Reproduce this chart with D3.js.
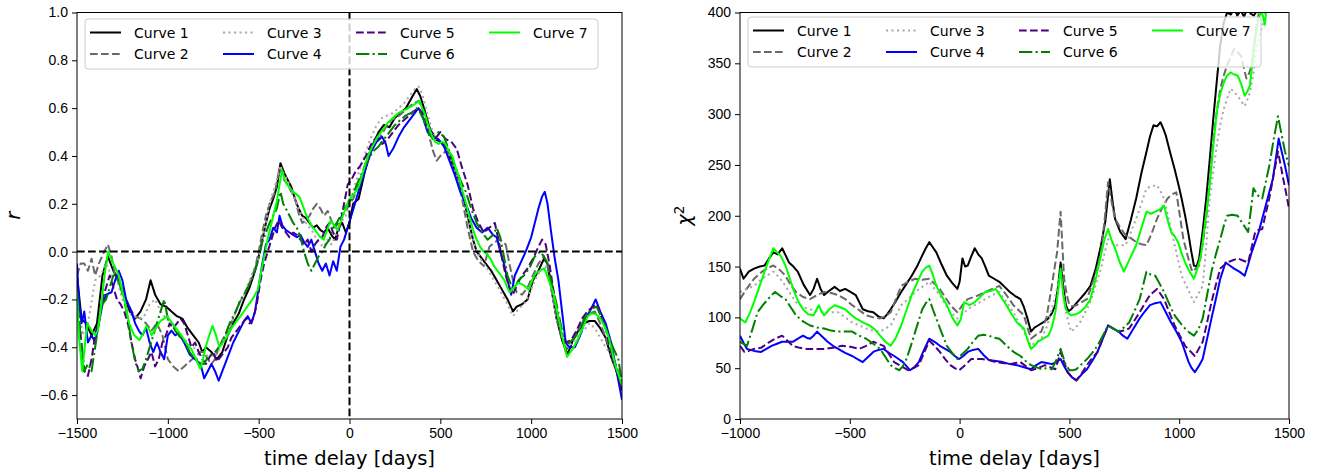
<!DOCTYPE html>
<html>
<head>
<meta charset="utf-8">
<script src="https://cdn.jsdelivr.net/npm/d3@7"></script>
<style>
  body { margin: 0; background: #fff; }
  svg { font-family: "DejaVu Sans", sans-serif; }
  .tick text { font-size: 14px; fill: #000; }
  .tick line { stroke: #000; stroke-width: 1; }
  .axis-label { font-size: 19.5px; fill: #000; }
  .legend-text { font-size: 14px; fill: #000; }
</style>
</head>
<body>
<div id="chart"></div>
<script>
  // ---------------- //
 // Data (read off)  //
// ---------------- //
var curveNames = ["Curve 1", "Curve 2", "Curve 3", "Curve 4", "Curve 5", "Curve 6", "Curve 7"];

var rTicksX = [-1500, -1000, -500, 0, 500, 1000, 1500];
var rTicksY = [-0.6, -0.4, -0.2, 0.0, 0.2, 0.4, 0.6, 0.8, 1.0];
var chiTicksX = [-1000, -500, 0, 500, 1000, 1500];
var chiTicksY = [0, 50, 100, 150, 200, 250, 300, 350, 400];

// left panel: correlation r vs time delay
var rCurve1 = [[-1500,-0.1],[-1475,-0.28],[-1450,-0.3],[-1420,-0.35],[-1390,-0.3],[-1360,-0.1],[-1330,-0.02],[-1300,-0.08],[-1270,-0.12],[-1240,-0.18],[-1210,-0.25],[-1180,-0.28],[-1150,-0.25],[-1120,-0.2],[-1095,-0.12],[-1070,-0.18],[-1040,-0.22],[-1010,-0.23],[-980,-0.25],[-950,-0.27],[-920,-0.28],[-890,-0.32],[-860,-0.35],[-830,-0.38],[-810,-0.42],[-790,-0.4],[-760,-0.42],[-730,-0.45],[-700,-0.42],[-670,-0.35],[-640,-0.3],[-610,-0.26],[-580,-0.2],[-550,-0.15],[-520,-0.08],[-500,-0.02],[-480,0.05],[-460,0.12],[-440,0.18],[-420,0.22],[-400,0.27],[-380,0.37],[-360,0.33],[-340,0.3],[-320,0.27],[-300,0.22],[-280,0.18],[-260,0.15],[-240,0.14],[-220,0.12],[-200,0.1],[-180,0.11],[-160,0.09],[-140,0.08],[-120,0.1],[-100,0.07],[-80,0.05],[-60,0.1],[-40,0.12],[-20,0.08],[0,0.12],[20,0.2],[50,0.22],[80,0.32],[100,0.38],[130,0.45],[160,0.5],[190,0.53],[220,0.52],[250,0.56],[280,0.58],[310,0.6],[340,0.64],[370,0.68],[390,0.65],[410,0.6],[440,0.52],[470,0.47],[500,0.46],[530,0.44],[560,0.38],[590,0.32],[620,0.25],[650,0.15],[680,0.05],[700,0.0],[720,-0.02],[750,-0.05],[780,-0.08],[810,-0.12],[840,-0.16],[870,-0.2],[900,-0.25],[920,-0.23],[950,-0.22],[980,-0.2],[1010,-0.12],[1040,-0.08],[1070,-0.03],[1090,-0.05],[1110,-0.15],[1140,-0.28],[1170,-0.37],[1200,-0.43],[1230,-0.37],[1260,-0.33],[1290,-0.3],[1320,-0.29],[1350,-0.29],[1380,-0.32],[1410,-0.36],[1440,-0.44],[1470,-0.5],[1500,-0.58]];
var rCurve2 = [[-1500,-0.1],[-1480,-0.05],[-1460,-0.05],[-1440,-0.08],[-1420,-0.03],[-1400,-0.1],[-1380,-0.05],[-1350,0.0],[-1330,0.03],[-1310,-0.02],[-1290,-0.1],[-1260,-0.15],[-1230,-0.2],[-1200,-0.25],[-1180,-0.27],[-1150,-0.28],[-1120,-0.3],[-1090,-0.33],[-1060,-0.3],[-1030,-0.35],[-1000,-0.45],[-970,-0.48],[-940,-0.5],[-910,-0.48],[-880,-0.46],[-850,-0.44],[-820,-0.42],[-800,-0.42],[-780,-0.45],[-760,-0.47],[-740,-0.45],[-720,-0.4],[-700,-0.37],[-670,-0.33],[-640,-0.28],[-610,-0.22],[-580,-0.18],[-550,-0.13],[-520,-0.07],[-500,0.0],[-480,0.08],[-460,0.15],[-440,0.2],[-410,0.25],[-385,0.35],[-360,0.3],[-340,0.28],[-320,0.25],[-300,0.22],[-280,0.16],[-260,0.12],[-240,0.13],[-220,0.15],[-200,0.18],[-180,0.2],[-160,0.18],[-140,0.15],[-120,0.17],[-100,0.13],[-80,0.1],[-60,0.12],[-40,0.15],[-20,0.17],[0,0.2],[20,0.22],[50,0.28],[80,0.35],[110,0.42],[140,0.45],[170,0.48],[200,0.52],[230,0.55],[260,0.56],[290,0.58],[320,0.6],[350,0.62],[380,0.63],[400,0.6],[420,0.55],[440,0.48],[460,0.42],[480,0.38],[500,0.4],[530,0.42],[560,0.4],[590,0.33],[620,0.22],[650,0.1],[680,0.0],[710,-0.04],[740,-0.06],[770,0.02],[800,0.04],[830,0.05],[860,0.03],[880,-0.05],[900,-0.12],[920,-0.17],[950,-0.18],[980,-0.15],[1010,-0.1],[1040,-0.05],[1070,-0.02],[1090,-0.05],[1110,-0.15],[1140,-0.28],[1170,-0.36],[1200,-0.38],[1230,-0.37],[1260,-0.33],[1290,-0.28],[1320,-0.26],[1350,-0.25],[1380,-0.3],[1410,-0.36],[1440,-0.42],[1470,-0.48],[1500,-0.55]];
var rCurve3 = [[-1500,-0.15],[-1470,-0.35],[-1440,-0.3],[-1400,-0.12],[-1370,-0.1],[-1340,-0.05],[-1310,-0.1],[-1280,-0.12],[-1250,-0.2],[-1220,-0.25],[-1190,-0.27],[-1160,-0.28],[-1130,-0.27],[-1100,-0.22],[-1070,-0.2],[-1040,-0.25],[-1010,-0.28],[-980,-0.3],[-950,-0.33],[-920,-0.36],[-890,-0.38],[-860,-0.4],[-830,-0.42],[-800,-0.44],[-770,-0.43],[-740,-0.44],[-710,-0.4],[-680,-0.35],[-650,-0.3],[-620,-0.24],[-590,-0.2],[-560,-0.14],[-530,-0.08],[-500,-0.03],[-480,0.05],[-460,0.12],[-440,0.2],[-420,0.25],[-400,0.3],[-380,0.36],[-360,0.32],[-340,0.3],[-320,0.25],[-300,0.22],[-280,0.18],[-260,0.15],[-240,0.12],[-220,0.1],[-200,0.08],[-180,0.05],[-160,0.03],[-140,0.02],[-120,0.05],[-100,0.03],[-80,0.06],[-60,0.1],[-40,0.13],[-20,0.15],[0,0.2],[30,0.28],[60,0.35],[90,0.42],[120,0.48],[150,0.53],[180,0.56],[210,0.57],[240,0.58],[270,0.6],[300,0.62],[330,0.65],[360,0.68],[380,0.69],[400,0.66],[420,0.6],[450,0.52],[480,0.46],[510,0.45],[540,0.42],[570,0.36],[600,0.3],[630,0.22],[660,0.12],[690,0.02],[720,-0.03],[750,-0.06],[780,-0.1],[810,-0.14],[840,-0.18],[870,-0.22],[900,-0.27],[930,-0.24],[960,-0.22],[990,-0.18],[1020,-0.12],[1050,-0.08],[1080,-0.06],[1110,-0.15],[1140,-0.28],[1170,-0.36],[1200,-0.4],[1230,-0.38],[1260,-0.35],[1290,-0.33],[1320,-0.3],[1350,-0.32],[1380,-0.36],[1410,-0.4],[1440,-0.43],[1470,-0.5],[1500,-0.57]];
var rCurve4 = [[-1500,-0.05],[-1490,-0.2],[-1475,-0.3],[-1460,-0.25],[-1440,-0.38],[-1420,-0.35],[-1400,-0.38],[-1380,-0.3],[-1360,-0.22],[-1340,-0.18],[-1310,-0.17],[-1290,-0.12],[-1270,-0.08],[-1250,-0.12],[-1230,-0.2],[-1200,-0.25],[-1180,-0.3],[-1160,-0.33],[-1140,-0.35],[-1120,-0.32],[-1100,-0.38],[-1080,-0.42],[-1060,-0.38],[-1040,-0.42],[-1020,-0.45],[-1000,-0.35],[-980,-0.33],[-960,-0.35],[-940,-0.34],[-910,-0.38],[-880,-0.43],[-850,-0.45],[-820,-0.47],[-800,-0.53],[-780,-0.5],[-760,-0.47],[-740,-0.5],[-720,-0.54],[-700,-0.5],[-680,-0.46],[-660,-0.42],[-640,-0.38],[-620,-0.35],[-600,-0.32],[-580,-0.29],[-560,-0.27],[-540,-0.3],[-520,-0.25],[-500,-0.15],[-480,-0.05],[-460,0.03],[-440,0.05],[-420,0.1],[-400,0.08],[-385,0.15],[-370,0.11],[-350,0.09],[-330,0.08],[-310,0.07],[-290,0.06],[-270,0.07],[-250,0.04],[-230,0.02],[-210,0.05],[-190,0.0],[-170,-0.05],[-150,-0.08],[-130,-0.05],[-110,-0.1],[-90,-0.04],[-70,-0.08],[-50,0.02],[-30,0.05],[-10,0.1],[10,0.15],[30,0.2],[60,0.28],[90,0.35],[120,0.42],[150,0.46],[180,0.48],[200,0.45],[215,0.4],[240,0.43],[270,0.48],[300,0.52],[330,0.55],[360,0.58],[380,0.6],[400,0.57],[430,0.5],[460,0.48],[490,0.47],[520,0.44],[550,0.38],[580,0.32],[610,0.25],[640,0.2],[670,0.14],[700,0.1],[730,0.08],[760,0.1],[790,0.07],[810,0.06],[830,0.0],[850,-0.05],[870,-0.12],[890,-0.18],[910,-0.1],[940,-0.05],[970,0.0],[1000,0.06],[1020,0.12],[1040,0.18],[1060,0.23],[1075,0.25],[1090,0.2],[1110,0.08],[1130,-0.03],[1150,-0.12],[1170,-0.25],[1190,-0.38],[1210,-0.4],[1240,-0.4],[1270,-0.35],[1300,-0.28],[1330,-0.24],[1355,-0.2],[1380,-0.25],[1410,-0.3],[1440,-0.38],[1470,-0.5],[1500,-0.62]];
var rCurve5 = [[-1500,-0.2],[-1480,-0.35],[-1460,-0.5],[-1440,-0.52],[-1420,-0.45],[-1400,-0.35],[-1380,-0.28],[-1360,-0.2],[-1340,-0.15],[-1320,-0.1],[-1300,-0.15],[-1280,-0.2],[-1260,-0.22],[-1240,-0.25],[-1220,-0.3],[-1200,-0.38],[-1180,-0.45],[-1160,-0.5],[-1150,-0.53],[-1130,-0.48],[-1110,-0.45],[-1090,-0.42],[-1070,-0.48],[-1050,-0.45],[-1030,-0.38],[-1010,-0.35],[-990,-0.3],[-970,-0.32],[-950,-0.3],[-930,-0.28],[-910,-0.3],[-890,-0.35],[-870,-0.4],[-850,-0.38],[-830,-0.42],[-810,-0.45],[-790,-0.47],[-770,-0.44],[-750,-0.42],[-730,-0.46],[-710,-0.44],[-690,-0.42],[-670,-0.4],[-650,-0.36],[-630,-0.34],[-610,-0.32],[-590,-0.3],[-570,-0.28],[-550,-0.3],[-530,-0.28],[-510,-0.22],[-490,-0.12],[-470,-0.05],[-450,0.0],[-430,0.05],[-410,0.1],[-390,0.13],[-370,0.1],[-350,0.08],[-330,0.06],[-310,0.08],[-290,0.07],[-270,0.05],[-250,0.03],[-230,0.05],[-210,0.0],[-190,0.03],[-170,0.05],[-150,0.06],[-130,0.1],[-110,0.12],[-90,0.08],[-70,0.05],[-50,0.12],[-30,0.2],[-10,0.28],[10,0.3],[30,0.33],[60,0.36],[90,0.4],[120,0.45],[150,0.48],[180,0.45],[210,0.47],[240,0.5],[270,0.53],[300,0.55],[330,0.57],[360,0.59],[380,0.6],[400,0.58],[420,0.53],[450,0.5],[480,0.48],[500,0.5],[530,0.47],[560,0.46],[590,0.43],[620,0.35],[650,0.28],[680,0.18],[710,0.12],[740,0.08],[770,0.1],[800,0.12],[820,0.05],[840,-0.03],[860,-0.1],[880,-0.15],[900,-0.18],[920,-0.14],[950,-0.1],[980,-0.07],[1010,-0.03],[1040,0.02],[1060,0.05],[1080,0.03],[1100,-0.05],[1120,-0.15],[1140,-0.25],[1160,-0.33],[1190,-0.38],[1220,-0.37],[1250,-0.33],[1280,-0.28],[1310,-0.25],[1340,-0.23],[1360,-0.22],[1380,-0.26],[1410,-0.32],[1440,-0.42],[1470,-0.5],[1500,-0.58]];
var rCurve6 = [[-1500,-0.2],[-1480,-0.35],[-1460,-0.5],[-1440,-0.47],[-1420,-0.5],[-1400,-0.4],[-1380,-0.3],[-1360,-0.22],[-1340,-0.2],[-1320,-0.15],[-1300,-0.1],[-1280,-0.1],[-1260,-0.15],[-1240,-0.2],[-1220,-0.28],[-1200,-0.38],[-1180,-0.46],[-1160,-0.5],[-1140,-0.49],[-1120,-0.45],[-1100,-0.4],[-1080,-0.35],[-1060,-0.3],[-1040,-0.25],[-1020,-0.2],[-1000,-0.28],[-980,-0.3],[-960,-0.33],[-940,-0.35],[-920,-0.37],[-900,-0.39],[-880,-0.42],[-860,-0.44],[-840,-0.45],[-820,-0.47],[-800,-0.47],[-780,-0.44],[-760,-0.43],[-740,-0.42],[-720,-0.4],[-700,-0.38],[-680,-0.34],[-660,-0.3],[-640,-0.27],[-620,-0.24],[-600,-0.2],[-580,-0.18],[-560,-0.15],[-540,-0.12],[-520,-0.08],[-500,-0.03],[-480,0.04],[-460,0.08],[-440,0.12],[-420,0.15],[-400,0.18],[-380,0.25],[-365,0.2],[-350,0.18],[-330,0.15],[-310,0.12],[-290,0.1],[-270,0.06],[-250,0.0],[-230,-0.05],[-210,-0.08],[-190,-0.05],[-170,-0.02],[-150,0.0],[-130,0.03],[-110,0.05],[-90,0.1],[-70,0.12],[-50,0.15],[-30,0.18],[-10,0.2],[10,0.22],[40,0.28],[70,0.33],[100,0.38],[130,0.42],[160,0.44],[190,0.47],[220,0.5],[250,0.53],[280,0.55],[310,0.57],[340,0.58],[370,0.6],[390,0.58],[410,0.55],[430,0.5],[460,0.47],[490,0.5],[520,0.48],[550,0.42],[580,0.36],[610,0.3],[640,0.25],[670,0.18],[700,0.12],[730,0.08],[760,0.05],[790,0.07],[810,0.1],[830,0.06],[850,-0.02],[870,-0.1],[890,-0.14],[910,-0.15],[930,-0.12],[960,-0.1],[990,-0.07],[1020,-0.02],[1050,0.0],[1070,-0.02],[1090,-0.05],[1110,-0.12],[1140,-0.22],[1170,-0.33],[1190,-0.42],[1210,-0.38],[1240,-0.36],[1270,-0.32],[1300,-0.27],[1330,-0.24],[1360,-0.23],[1390,-0.28],[1420,-0.34],[1450,-0.4],[1480,-0.45],[1500,-0.55]];
var rCurve7 = [[-1500,-0.17],[-1490,-0.35],[-1471,-0.5],[-1455,-0.38],[-1443,-0.3],[-1420,-0.33],[-1400,-0.35],[-1385,-0.33],[-1360,-0.18],[-1345,-0.08],[-1328,0.0],[-1300,-0.05],[-1270,-0.1],[-1240,-0.2],[-1213,-0.3],[-1185,-0.35],[-1156,-0.37],[-1135,-0.34],[-1117,-0.31],[-1100,-0.33],[-1089,-0.35],[-1065,-0.32],[-1041,-0.29],[-1020,-0.28],[-1003,-0.27],[-985,-0.29],[-965,-0.31],[-945,-0.33],[-926,-0.35],[-900,-0.38],[-869,-0.41],[-845,-0.45],[-821,-0.49],[-806,-0.45],[-792,-0.4],[-772,-0.35],[-754,-0.31],[-735,-0.35],[-716,-0.4],[-697,-0.38],[-677,-0.36],[-650,-0.32],[-620,-0.29],[-590,-0.26],[-563,-0.23],[-535,-0.2],[-505,-0.16],[-485,-0.08],[-467,-0.01],[-448,0.06],[-429,0.12],[-414,0.17],[-400,0.21],[-385,0.28],[-371,0.34],[-357,0.3],[-343,0.28],[-310,0.25],[-276,0.23],[-256,0.19],[-237,0.15],[-210,0.11],[-180,0.08],[-160,0.06],[-142,0.05],[-123,0.09],[-104,0.13],[-85,0.11],[-65,0.09],[-46,0.13],[-27,0.17],[-12,0.2],[0,0.22],[25,0.24],[50,0.27],[70,0.32],[88,0.37],[108,0.41],[126,0.44],[155,0.48],[183,0.51],[212,0.54],[241,0.56],[270,0.58],[298,0.59],[322,0.6],[346,0.61],[365,0.62],[385,0.63],[400,0.6],[413,0.58],[432,0.53],[451,0.49],[470,0.46],[490,0.45],[510,0.46],[528,0.45],[547,0.42],[566,0.4],[585,0.35],[604,0.31],[623,0.25],[642,0.2],[662,0.14],[681,0.09],[700,0.05],[719,0.02],[738,0.0],[757,-0.01],[776,-0.03],[795,-0.06],[824,-0.09],[853,-0.12],[868,-0.15],[882,-0.17],[905,-0.15],[929,-0.13],[958,-0.14],[987,-0.16],[1005,-0.12],[1025,-0.09],[1050,-0.08],[1073,-0.07],[1097,-0.12],[1121,-0.17],[1140,-0.24],[1159,-0.31],[1178,-0.38],[1197,-0.44],[1226,-0.41],[1255,-0.37],[1283,-0.32],[1312,-0.27],[1331,-0.26],[1350,-0.26],[1370,-0.27],[1389,-0.29],[1408,-0.32],[1427,-0.36],[1446,-0.42],[1465,-0.48],[1483,-0.52],[1500,-0.56]];

// right panel: chi^2 vs time delay
var chiCurve1 = [[-1000,148],[-984,138],[-960,145],[-936,148],[-910,150],[-888,151],[-868,158],[-848,164],[-828,162],[-808,168],[-790,160],[-777,154],[-757,150],[-737,145],[-710,132],[-681,122],[-665,128],[-649,138],[-633,128],[-617,122],[-595,126],[-569,130],[-545,126],[-521,128],[-497,125],[-473,122],[-457,115],[-441,108],[-417,106],[-393,105],[-370,101],[-346,99],[-330,103],[-314,108],[-290,116],[-266,125],[-242,133],[-218,141],[-194,150],[-170,161],[-154,168],[-138,174],[-122,169],[-106,164],[-82,152],[-58,141],[-34,134],[-10,128],[0,135],[13,158],[25,150],[37,151],[53,160],[69,168],[85,162],[101,158],[117,150],[133,141],[157,138],[181,135],[205,130],[229,125],[253,121],[277,118],[293,110],[309,99],[325,86],[341,90],[357,92],[380,95],[404,99],[420,104],[436,112],[448,130],[460,154],[472,130],[484,112],[496,106],[508,108],[528,113],[548,118],[572,124],[596,131],[620,148],[644,171],[664,195],[684,236],[696,215],[708,197],[732,184],[756,177],[780,196],[804,217],[828,242],[851,263],[867,278],[883,289],[899,288],[915,292],[927,286],[939,279],[959,262],[979,246],[995,232],[1011,217],[1027,200],[1043,181],[1055,165],[1067,151],[1079,150],[1091,158],[1107,185],[1123,217],[1139,255],[1155,295],[1171,332],[1187,368],[1203,390],[1218,400],[1235,398],[1250,404],[1265,397],[1280,402],[1295,396],[1310,404],[1325,399],[1340,397],[1360,404],[1380,412],[1400,430],[1450,470],[1500,460]];
var chiCurve2 = [[-1000,118],[-970,128],[-936,138],[-900,145],[-870,149],[-848,151],[-820,147],[-793,141],[-770,132],[-745,125],[-713,120],[-681,118],[-649,122],[-617,125],[-585,124],[-553,122],[-521,118],[-489,112],[-457,107],[-425,102],[-393,100],[-362,99],[-338,101],[-314,105],[-290,118],[-266,131],[-234,135],[-202,138],[-170,137],[-138,138],[-114,133],[-90,128],[-66,120],[-42,112],[-10,105],[13,112],[37,118],[77,121],[117,125],[149,128],[181,131],[213,122],[245,112],[269,107],[293,102],[309,90],[325,79],[349,83],[372,86],[396,100],[420,131],[432,148],[444,164],[452,185],[460,204],[468,170],[476,138],[488,122],[500,112],[516,111],[532,112],[556,115],[580,118],[596,128],[612,138],[628,150],[644,164],[660,195],[676,233],[692,214],[708,197],[732,188],[756,181],[780,178],[804,174],[828,172],[851,171],[875,183],[899,197],[923,208],[947,217],[967,221],[987,223],[1003,200],[1019,177],[1039,160],[1059,145],[1075,148],[1091,151],[1107,172],[1123,197],[1139,237],[1155,276],[1171,302],[1187,325],[1203,338],[1218,348],[1234,356],[1250,364],[1266,361],[1282,357],[1294,346],[1306,335],[1318,340],[1330,348],[1342,370],[1354,390],[1368,405],[1400,420],[1450,430],[1500,440]];
var chiCurve3 = [[-1000,125],[-970,128],[-936,131],[-900,138],[-870,142],[-848,145],[-820,139],[-793,131],[-770,123],[-745,115],[-713,110],[-681,108],[-649,106],[-617,105],[-585,105],[-553,105],[-521,100],[-489,95],[-457,92],[-425,89],[-393,87],[-362,86],[-338,89],[-314,92],[-290,102],[-266,112],[-234,118],[-202,125],[-170,130],[-138,135],[-114,128],[-90,122],[-66,113],[-42,105],[-10,99],[13,103],[37,108],[77,113],[117,118],[149,122],[181,125],[213,115],[245,105],[269,95],[293,86],[309,79],[325,72],[349,76],[372,79],[396,90],[420,108],[440,125],[460,145],[472,125],[484,105],[496,95],[508,86],[528,90],[548,95],[572,105],[596,115],[620,132],[644,148],[660,163],[676,177],[692,174],[708,171],[732,171],[756,171],[780,184],[804,197],[828,212],[851,227],[875,229],[899,230],[915,224],[931,217],[947,202],[963,187],[987,164],[1011,141],[1039,128],[1067,115],[1087,123],[1107,131],[1123,170],[1139,217],[1155,243],[1171,269],[1187,290],[1203,305],[1218,315],[1234,325],[1250,322],[1266,318],[1282,313],[1298,308],[1310,314],[1322,321],[1338,340],[1346,357],[1362,375],[1378,387],[1390,398],[1400,410],[1450,430],[1500,440]];
var chiCurve4 = [[-1000,82],[-984,75],[-968,69],[-936,67],[-904,66],[-880,69],[-856,72],[-832,74],[-808,76],[-784,76],[-760,76],[-736,79],[-713,82],[-697,80],[-681,79],[-665,82],[-649,86],[-625,81],[-601,76],[-577,72],[-553,69],[-521,65],[-489,62],[-465,59],[-441,56],[-417,61],[-393,66],[-370,68],[-346,69],[-322,65],[-298,62],[-278,59],[-258,56],[-242,52],[-226,48],[-206,51],[-186,56],[-162,68],[-138,79],[-114,76],[-90,72],[-66,69],[-42,66],[-22,62],[-2,59],[17,62],[37,66],[61,68],[85,69],[109,63],[133,58],[165,57],[197,56],[229,54],[261,53],[293,51],[325,49],[349,53],[372,56],[396,55],[420,54],[440,56],[460,59],[476,52],[492,46],[512,41],[532,38],[556,44],[580,49],[604,57],[628,66],[652,79],[676,92],[700,89],[724,86],[744,82],[764,79],[792,89],[820,99],[844,106],[867,112],[891,114],[915,115],[939,105],[963,95],[987,86],[1011,76],[1027,66],[1043,56],[1057,50],[1071,46],[1089,52],[1107,59],[1127,79],[1147,99],[1167,118],[1187,138],[1199,146],[1211,154],[1230,151],[1250,148],[1274,145],[1298,141],[1314,152],[1330,164],[1346,174],[1362,184],[1378,197],[1394,210],[1410,223],[1426,236],[1440,256],[1453,276],[1468,262],[1482,249],[1500,230]];
var chiCurve5 = [[-1000,72],[-980,66],[-960,67],[-936,69],[-904,70],[-872,75],[-840,79],[-808,82],[-784,77],[-760,72],[-728,70],[-697,69],[-657,69],[-617,69],[-577,70],[-537,72],[-497,71],[-457,69],[-425,72],[-393,76],[-370,74],[-346,72],[-322,64],[-298,56],[-266,52],[-234,48],[-210,50],[-186,53],[-162,65],[-138,77],[-114,72],[-90,66],[-66,59],[-42,53],[-22,50],[-2,48],[25,53],[53,59],[77,59],[101,59],[133,58],[165,56],[197,55],[229,54],[253,55],[277,56],[301,52],[325,48],[356,50],[388,53],[412,51],[436,49],[448,57],[460,66],[476,56],[492,46],[512,41],[532,38],[556,45],[580,53],[604,60],[628,66],[652,79],[676,92],[700,89],[724,86],[748,87],[772,89],[796,97],[820,105],[844,114],[867,122],[883,125],[899,128],[915,123],[931,118],[955,105],[979,92],[1003,82],[1027,72],[1049,67],[1071,62],[1089,69],[1107,76],[1127,95],[1147,115],[1167,132],[1187,148],[1203,151],[1218,154],[1242,156],[1266,158],[1290,156],[1314,154],[1330,169],[1346,184],[1362,186],[1378,187],[1394,202],[1410,217],[1430,240],[1450,263],[1462,250],[1474,236],[1487,222],[1500,207]];
var chiCurve6 = [[-1000,76],[-968,72],[-944,88],[-920,105],[-896,112],[-872,118],[-856,122],[-840,125],[-816,121],[-793,118],[-769,110],[-745,102],[-713,96],[-681,92],[-649,90],[-617,89],[-585,87],[-553,86],[-521,86],[-489,86],[-457,82],[-425,79],[-393,74],[-362,69],[-338,61],[-314,53],[-294,50],[-274,48],[-258,52],[-242,59],[-222,72],[-202,86],[-186,97],[-170,108],[-154,114],[-138,118],[-122,108],[-106,99],[-82,85],[-58,72],[-34,65],[-10,59],[13,64],[37,69],[61,76],[85,82],[109,83],[133,82],[157,80],[181,79],[205,74],[229,69],[253,65],[277,62],[301,57],[325,53],[349,51],[372,49],[396,50],[420,49],[440,58],[460,69],[480,55],[500,48],[516,48],[532,49],[556,54],[580,59],[604,65],[628,72],[652,82],[676,92],[700,89],[724,86],[748,90],[772,95],[796,106],[820,118],[836,132],[851,145],[871,142],[891,141],[911,133],[931,125],[955,113],[979,102],[1003,95],[1027,89],[1047,85],[1067,82],[1087,88],[1107,99],[1127,122],[1147,145],[1167,162],[1187,177],[1203,190],[1218,200],[1242,201],[1266,200],[1290,192],[1314,184],[1326,205],[1338,227],[1358,220],[1378,217],[1394,233],[1410,249],[1430,275],[1450,298],[1466,280],[1482,263],[1500,249]];
var chiCurve7 = [[-1000,99],[-976,95],[-956,104],[-936,115],[-912,130],[-888,145],[-868,157],[-848,168],[-832,164],[-816,161],[-793,151],[-773,138],[-753,125],[-733,115],[-713,108],[-690,103],[-665,102],[-653,107],[-641,112],[-629,106],[-617,102],[-593,108],[-569,112],[-545,110],[-521,108],[-497,103],[-473,99],[-441,95],[-409,92],[-385,88],[-362,82],[-338,76],[-314,72],[-290,80],[-266,92],[-242,107],[-218,122],[-194,134],[-170,145],[-154,149],[-138,151],[-122,142],[-106,131],[-82,121],[-58,112],[-34,100],[-10,92],[5,98],[21,115],[45,112],[69,115],[93,120],[117,125],[141,126],[165,128],[189,120],[213,112],[237,103],[261,95],[277,92],[293,89],[309,78],[325,69],[341,72],[357,76],[380,79],[404,82],[420,90],[436,105],[448,125],[460,148],[472,122],[484,108],[496,104],[508,102],[528,103],[548,105],[572,110],[596,118],[620,138],[644,161],[660,177],[676,187],[692,176],[708,168],[728,155],[748,145],[776,158],[804,171],[828,188],[851,204],[871,202],[891,204],[911,206],[931,210],[947,196],[963,184],[979,180],[995,174],[1011,163],[1027,154],[1047,145],[1067,138],[1083,148],[1099,161],[1119,195],[1139,230],[1155,268],[1171,302],[1187,320],[1203,331],[1218,338],[1234,341],[1250,339],[1266,338],[1282,330],[1298,318],[1310,322],[1322,328],[1338,361],[1350,380],[1362,394],[1375,402],[1390,388],[1400,410],[1450,440],[1500,450]];

var rCurves = [rCurve1, rCurve2, rCurve3, rCurve4, rCurve5, rCurve6, rCurve7];
var chiCurves = [chiCurve1, chiCurve2, chiCurve3, chiCurve4, chiCurve5, chiCurve6, chiCurve7];

  // -------------- //
 // Curve styling  //
// -------------- //
var curveColors = ["#000000", "#696969", "#a9a9a9", "#0000ff", "#4b0082", "#008000", "#00ff00"];
var curveDashes = [null, "7.7,3.3", "2.1,3.4", null, "7.7,3.3", "13.3,3.3,2.1,3.3", null];

  // ------------ //
 // Set up chart //
// ------------ //
var svgWidth = 1332;
var svgHeight = 472;

var plotTop = 12.5;
var plotBottom = 419;

var svg = d3.select("#chart")
  .append("svg")
  .attr("width", svgWidth)
  .attr("height", svgHeight);

var line = function(xs, ys) {
  return d3.line()
    .x(d => xs(d[0]))
    .y(d => ys(d[1]));
};

function drawPanel(opts) {
  var xScale = d3.scaleLinear().domain(opts.xDomain).range([opts.left, opts.right]);
  var yScale = d3.scaleLinear().domain(opts.yDomain).range([plotBottom, plotTop]);

  var clipId = "clip-" + opts.id;
  svg.append("clipPath")
    .attr("id", clipId)
    .append("rect")
    .attr("x", opts.left)
    .attr("y", plotTop)
    .attr("width", opts.right - opts.left)
    .attr("height", plotBottom - plotTop);

  var plotGroup = svg.append("g").attr("clip-path", `url(#${clipId})`);

  // curves
  var path = line(xScale, yScale);
  opts.curves.forEach(function(curve, i) {
    plotGroup.append("path")
      .datum(curve)
      .attr("d", path)
      .attr("fill", "none")
      .attr("stroke", curveColors[i])
      .attr("stroke-width", 2)
      .attr("stroke-linejoin", "round")
      .attr("stroke-dasharray", curveDashes[i]);
  });

  // zero reference lines
  if (opts.zeroLines) {
    plotGroup.append("line")
      .attr("x1", opts.left).attr("x2", opts.right)
      .attr("y1", yScale(0)).attr("y2", yScale(0))
      .attr("stroke", "#000").attr("stroke-width", 2)
      .attr("stroke-dasharray", "7.7,3.3");
    plotGroup.append("line")
      .attr("x1", xScale(0)).attr("x2", xScale(0))
      .attr("y1", plotTop).attr("y2", plotBottom)
      .attr("stroke", "#000").attr("stroke-width", 2)
      .attr("stroke-dasharray", "7.7,3.3");
  }

  // axes
  var bottomAxis = d3.axisBottom(xScale)
    .tickValues(opts.xTicks)
    .tickFormat(d3.format("d"))
    .tickSize(5).tickPadding(4);
  var leftAxis = d3.axisLeft(yScale)
    .tickValues(opts.yTicks)
    .tickFormat(d3.format(opts.yFormat))
    .tickSize(5).tickPadding(4);

  svg.append("g")
    .attr("transform", `translate(0, ${plotBottom})`)
    .call(bottomAxis)
    .call(g => g.select(".domain").remove());
  svg.append("g")
    .attr("transform", `translate(${opts.left}, 0)`)
    .call(leftAxis)
    .call(g => g.select(".domain").remove());

  // frame
  svg.append("rect")
    .attr("x", opts.left)
    .attr("y", plotTop)
    .attr("width", opts.right - opts.left)
    .attr("height", plotBottom - plotTop)
    .attr("fill", "none")
    .attr("stroke", "#000")
    .attr("stroke-width", 1);

  // axis labels
  svg.append("text")
    .attr("class", "axis-label")
    .attr("x", (opts.left + opts.right) / 2)
    .attr("y", 465)
    .attr("text-anchor", "middle")
    .text("time delay [days]");

  var yLabel = svg.append("text")
    .attr("class", "axis-label")
    .attr("transform", `translate(${opts.yLabelX}, ${(plotTop + plotBottom) / 2}) rotate(-90)`)
    .attr("text-anchor", "middle");
  yLabel.append("tspan").attr("font-style", "italic").text(opts.yLabel);
  if (opts.yLabelSup) {
    yLabel.append("tspan")
      .attr("font-size", "13.5px")
      .attr("dy", "-0.55em")
      .text(opts.yLabelSup);
  }

  // legend
  var legend = svg.append("g");
  legend.append("rect")
    .attr("x", opts.left + 8)
    .attr("y", opts.legendTop)
    .attr("width", 513)
    .attr("height", 50)
    .attr("rx", 3)
    .attr("fill", "#fff")
    .attr("fill-opacity", 0.8)
    .attr("stroke", "#cccccc")
    .attr("stroke-width", 1);

  curveNames.forEach(function(name, i) {
    var col = Math.floor(i / 2);
    var row = i % 2;
    var hx = opts.left + 13 + col * 133;
    var hy = opts.legendTop + 13.5 + row * 21.5;
    legend.append("line")
      .attr("x1", hx).attr("x2", hx + 31)
      .attr("y1", hy).attr("y2", hy)
      .attr("stroke", curveColors[i])
      .attr("stroke-width", 2)
      .attr("stroke-dasharray", curveDashes[i]);
    legend.append("text")
      .attr("class", "legend-text")
      .attr("x", hx + 44)
      .attr("y", hy + 5)
      .text(name);
  });
}

drawPanel({
  id: "r",
  left: 77, right: 622,
  xDomain: [-1500, 1500], yDomain: [-0.7, 1.0],
  xTicks: rTicksX, yTicks: rTicksY, yFormat: ".1f",
  curves: rCurves,
  zeroLines: true,
  yLabel: "r", yLabelX: 20,
  legendTop: 19
});

drawPanel({
  id: "chi",
  left: 740, right: 1289,
  xDomain: [-1000, 1500], yDomain: [0, 400],
  xTicks: chiTicksX, yTicks: chiTicksY, yFormat: "d",
  curves: chiCurves,
  zeroLines: false,
  yLabel: "χ", yLabelX: 691, yLabelSup: "2",
  legendTop: 17
});
</script>
</body>
</html>
